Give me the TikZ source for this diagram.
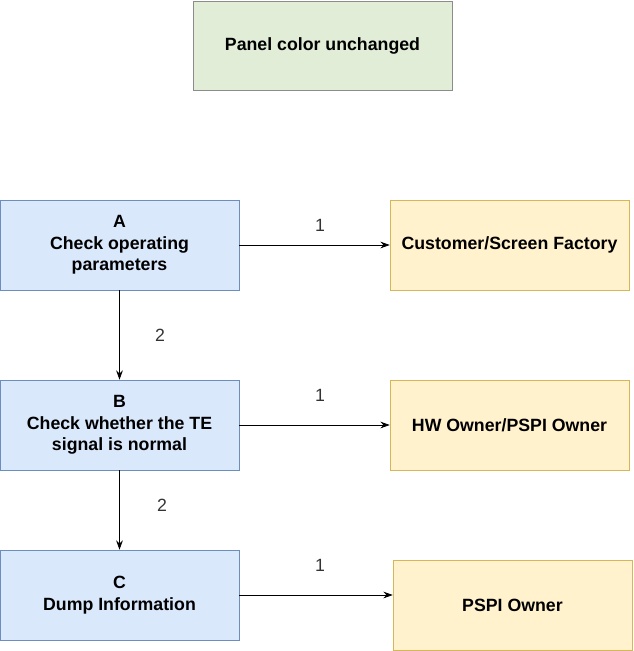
\documentclass[tikz,border=0pt]{standalone}
\usepackage{fontspec}
\setmainfont{Liberation Sans}
\usepackage{xcolor}
\usepackage{tikz}
\usetikzlibrary{arrows.meta}

\definecolor{stepfill}{HTML}{DAE8FC}
\definecolor{stepline}{HTML}{6C8EBF}
\definecolor{ownerfill}{HTML}{FFF2CC}
\definecolor{ownerline}{HTML}{D6B656}
\definecolor{notefill}{HTML}{E1EDD7}
\definecolor{noteline}{HTML}{8C8C8C}
\definecolor{lblgray}{HTML}{333333}

\begin{document}
\begin{tikzpicture}[x=0.75pt, y=-0.75pt,
        box/.style={draw, inner sep=0pt, align=center,
            minimum width=179.25pt, minimum height=67.5pt,
            font=\fontsize{13.3}{16}\selectfont\bfseries},
        stepbox/.style={box, fill=stepfill, draw=stepline},
        ownerbox/.style={box, fill=ownerfill, draw=ownerline},
        notebox/.style={box, fill=notefill, draw=noteline, minimum width=194.25pt, minimum height=66.75pt},
        lbl/.style={text=lblgray, font=\fontsize{13.3}{16}\selectfont},
        flow/.style={-{Stealth[length=7pt, width=5pt]}, semithick}]
        \useasboundingbox (0, 0) rectangle (634, 651);

        % top note
        \node [notebox] (note) at (322.5, 45.5) {Panel color unchanged};

        % steps on the left
        \node [stepbox] (a) at (119.5, 245) {A\\Check operating\\parameters};
        \node [stepbox] (b) at (119.5, 425) {B\\Check whether the TE\\signal is normal};
        \node [stepbox] (c) at (119.5, 595) {C\\Dump Information};

        % owners on the right
        \node [ownerbox] (cust) at (509.5, 245) {Customer/Screen Factory};
        \node [ownerbox] (hw) at (509.5, 425) {HW Owner/PSPI Owner};
        \node [ownerbox] (pspi) at (512.5, 605) {PSPI Owner};

        \draw [flow] (a) -- (cust);
        \draw [flow] (b) -- (hw);
        \draw [flow] (c.east) -- (c.east -| pspi.west);
        \draw [flow] (a) -- (b);
        \draw [flow] (b) -- (c);

        \node [lbl] (a1) at (320, 225) {1};
        \node [lbl] (b1) at (320, 395) {1};
        \node [lbl] (c1) at (320, 565) {1};
        \node [lbl] (a2) at (160, 335) {2};
        \node [lbl] (b2) at (162, 505) {2};
    \end{tikzpicture}
\end{document}
